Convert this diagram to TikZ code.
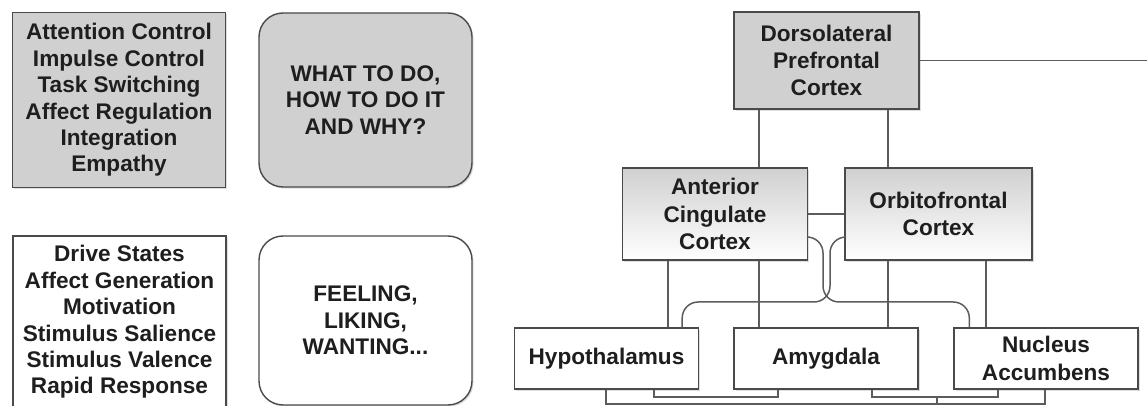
\documentclass[tikz,border=0pt]{standalone}
\usepackage{fontspec}
\setmainfont{Liberation Sans}
\usepackage{xcolor}
\definecolor{inkDark}{HTML}{1E1E1E}
\definecolor{edgeGray}{HTML}{4A4A4A}
\definecolor{wireGray}{HTML}{5C5C5C}
\definecolor{panelGray}{HTML}{D0D0D0}
\usepackage{tikz}
\usetikzlibrary{shadows, positioning, calc}

\begin{document}
\begin{tikzpicture}[
    x=0.5pt, y=-0.5pt,
    every node/.style={inner sep=0pt, align=center, text=inkDark, font=\fontsize{11.3}{13.2}\selectfont\bfseries},
    box/.style={draw=edgeGray, line width=0.7pt, drop shadow={opacity=0.25, shadow xshift=0.8pt, shadow yshift=-0.8pt}},
    listBox/.style={box, minimum width=106.5pt},
    talkBox/.style={box, rounded corners=12pt, minimum width=106.5pt},
    regionBox/.style={box, font=\fontsize{11.3}{13.6}\selectfont\bfseries},
    topBox/.style={regionBox, fill=panelGray, minimum width=92.5pt, minimum height=48.5pt},
    midBox/.style={regionBox, top color=panelGray, bottom color=white, minimum width=92.5pt, minimum height=46pt},
    lowBox/.style={regionBox, fill=white, minimum width=92pt, minimum height=30.5pt},
    wire/.style={draw=wireGray, line width=0.75pt}
]
    \useasboundingbox (0,0) rectangle (1147,406);

    % Left column descriptions
    \node (exec) [listBox, fill=panelGray, minimum height=87.5pt] at (119,100)
        {Attention Control\\Impulse Control\\Task Switching\\Affect Regulation\\Integration\\Empathy};
    \node (execQ) [talkBox, fill=panelGray, minimum height=87pt] at (365.5,100)
        {WHAT TO DO,\\HOW TO DO IT\\AND WHY?};
    \node (drive) [listBox, fill=white, minimum height=86pt] at (119.5,322)
        {Drive States\\Affect Generation\\Motivation\\Stimulus Salience\\Stimulus Valence\\Rapid Response};
    \node (driveQ) [talkBox, fill=white, minimum height=84.5pt] at (365.5,320.5)
        {FEELING,\\LIKING,\\WANTING...};

    % Brain regions
    \node (dlpfc) [topBox] at (826.5,60.5) {Dorsolateral\\Prefrontal\\Cortex};
    \node (acc) [midBox] at (715,214) {Anterior\\Cingulate\\Cortex};
    \node (ofc) [midBox, minimum width=93.5pt] at (938.5,214) {Orbitofrontal\\Cortex};
    \node (hyp) [lowBox] at (606.5,358.5) {Hypothalamus};
    \node (amy) [lowBox] at (826,358.5) {Amygdala};
    \node (nac) [lowBox] at (1046,358.5) {Nucleus\\Accumbens};

    % Column and bus positions
    \coordinate (colA) at (668,0);
    \coordinate (colB) at (759,0);
    \coordinate (colC) at (888,0);
    \coordinate (colD) at (986,0);
    \coordinate (dlout) at (1152,60.5);
    \coordinate (crossL) at (823,302);
    \coordinate (crossR) at (830,302);
    \coordinate (hypA) at (606,404);
    \coordinate (hypB) at (654,397);
    \coordinate (amyA) at (778,397);
    \coordinate (amyB) at (872,397);
    \coordinate (nacA) at (998,397);
    \coordinate (nacB) at (1045,404);
    \coordinate (tick) at (937,397);

    % Straight links
    \draw [wire] (dlpfc.east) -- (dlout);
    \draw [wire] (dlpfc.south -| colB) -- (acc.north -| colB);
    \draw [wire] (dlpfc.south -| colC) -- (ofc.north -| colC);
    \draw [wire] (acc.east) -- (ofc.west);
    \draw [wire] (acc.south -| colA) -- (hyp.north -| colA);
    \draw [wire] (acc.south -| colB) -- (amy.north -| colB);
    \draw [wire] (ofc.south -| colC) -- (amy.north -| colC);
    \draw [wire] (ofc.south -| colD) -- (nac.north -| colD);

    % Crossing links
    \draw [wire, rounded corners=8pt] ([yshift=-11.5pt]acc.east) -| (crossL) -| ([xshift=8pt]nac.north west);
    \draw [wire, rounded corners=8pt] ([yshift=-11.5pt]ofc.west) -| (crossR) -| ([xshift=-8.5pt]hyp.north east);

    % Bottom brackets
    \draw [wire] (hyp.south -| hypB) -- (hypB) -- (amyA) -- (amy.south -| amyA);
    \draw [wire] (hyp.south -| hypA) -- (hypA) -- (nacB) -- (nac.south -| nacB);
    \draw [wire] (amy.south -| amyB) -- (amyB) -- (nacA) -- (nac.south -| nacA);
    \draw [wire] (tick) -- (tick |- nacB);
\end{tikzpicture}
\end{document}
